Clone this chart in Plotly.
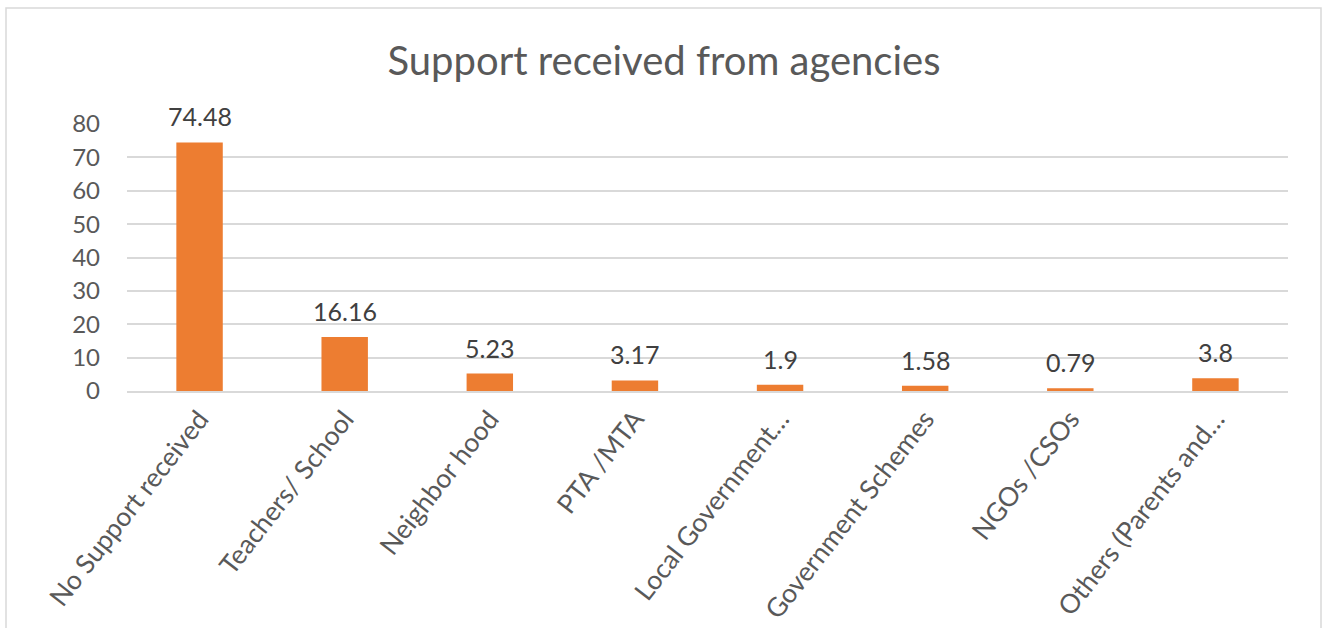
import plotly.graph_objects as go

# Share of respondents by source of support (%)
categories = [
    "No Support received",
    "Teachers/ School",
    "Neighbor hood",
    "PTA /MTA",
    "Local Government…",
    "Government Schemes",
    "NGOs /CSOs",
    "Others (Parents and…",
]
values = [74.48, 16.16, 5.23, 3.17, 1.9, 1.58, 0.79, 3.8]
value_labels = ["74.48", "16.16", "5.23", "3.17", "1.9", "1.58", "0.79", "3.8"]
y_ticks = [0, 10, 20, 30, 40, 50, 60, 70, 80]

TEXT = "#595959"
FONT = "Lato"

fig = go.Figure(
    go.Bar(
        x=categories,
        y=values,
        marker=dict(color="#ED7D31", line=dict(width=0)),
    )
)

# Value labels placed just above each bar
for cat, val, lab in zip(categories, values, value_labels):
    fig.add_annotation(
        x=cat,
        y=val,
        text=lab,
        showarrow=False,
        yanchor="bottom",
        yshift=9,
        font=dict(family=FONT, size=25, color="#404040"),
    )

fig.update_layout(
    width=1328,
    height=628,
    margin=dict(l=127, r=40, t=124, b=237),
    paper_bgcolor="white",
    plot_bgcolor="white",
    bargap=0.68,
    showlegend=False,
    title=dict(
        text="Support received from agencies",
        x=0.5,
        xanchor="center",
        y=0.903,
        yanchor="middle",
        font=dict(family=FONT, size=40, color=TEXT),
    ),
    font=dict(family=FONT, color=TEXT),
)

fig.update_xaxes(
    tickangle=-52,
    tickfont=dict(family=FONT, size=26.5, color=TEXT),
    showline=True,
    linecolor="#D9D9D9",
    linewidth=2,
    showgrid=False,
    ticks="",
    automargin=False,
)

fig.update_yaxes(
    range=[0, 80],
    tickvals=y_ticks,
    tickfont=dict(family=FONT, size=24, color=TEXT),
    showgrid=True,
    gridcolor="#D9D9D9",
    gridwidth=2,
    zeroline=False,
    showline=False,
    ticks="",
    ticklabelstandoff=26,
    automargin=False,
)

# Light frame around the whole chart area
fig.add_shape(
    type="rect",
    xref="paper",
    yref="paper",
    x0=-121 / 1161,
    x1=1194 / 1161,
    y0=-260 / 267,
    y1=383 / 267,
    line=dict(color="#D9D9D9", width=1.5),
    fillcolor="rgba(0,0,0,0)",
    layer="below",
)

fig.write_html("out.html")
